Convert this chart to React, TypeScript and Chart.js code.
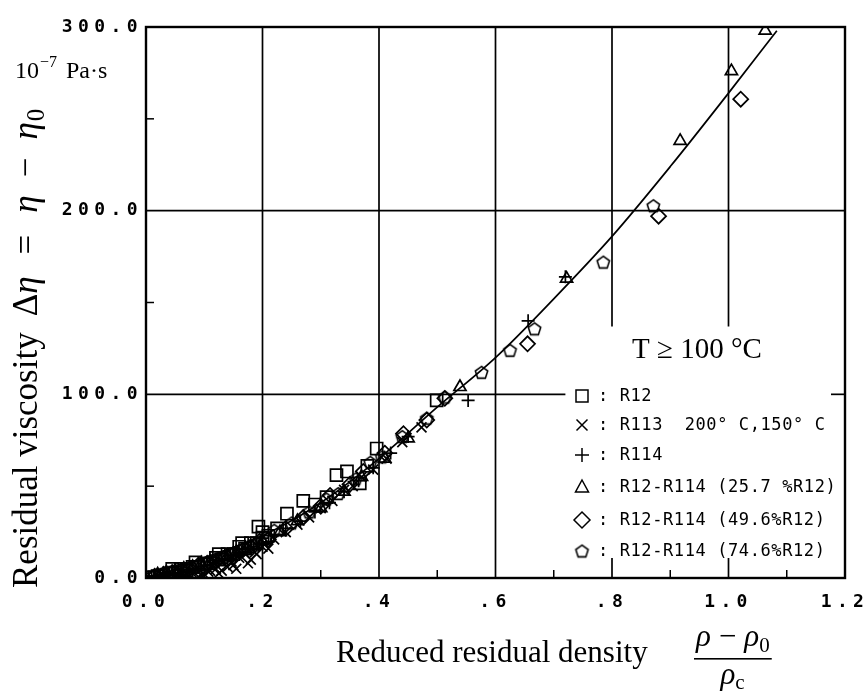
import React, { useEffect, useRef } from 'react';
import { Chart, registerables } from 'chart.js';

Chart.register(...registerables);

// ---------- axes ----------
const X_MIN = 0;
const X_MAX = 1.2;
const X_STEP = 0.2;
const Y_MIN = 0;
const Y_MAX = 300;
const Y_STEP = 100;
const xMinorTicks = [0.1, 0.3, 0.5, 0.7, 0.9, 1.1];
const yMinorTicks = [50, 150, 250];
const fullGridX = [0.2, 0.4, 0.6];
const partialGridX = [0.8, 1.0];
const fullGridY = [200];
const partialGridY = [100];
const gridBreakY = 137; // where the 0.8 / 1.0 lines stop (value units)
const gridBreakX = 0.72; // where the 100 line stops (value units)

// ---------- fitted curve ----------
const curveX = [0, 0.05, 0.1, 0.2, 0.3, 0.4, 0.5, 0.6, 0.7, 0.8, 0.9, 1.0, 1.083];
const curveY = [0, 4.5, 11, 23, 41, 65, 93, 120, 152, 186, 224, 264, 298];

// ---------- measurements ----------
const r12X = [0.01, 0.02, 0.03, 0.04, 0.045, 0.05, 0.06, 0.07, 0.08, 0.085, 0.09, 0.1, 0.11, 0.12, 0.125, 0.13, 0.14, 0.15, 0.16, 0.165, 0.17, 0.18, 0.19, 0.193, 0.2, 0.2, 0.21, 0.225, 0.242, 0.27, 0.29, 0.31, 0.327, 0.345, 0.367, 0.38, 0.396, 0.499];
const r12Y = [0.5, 1, 1.5, 2.5, 5, 3, 5, 4, 6, 8.5, 6, 7.5, 8, 11, 13, 10, 13, 13, 17, 19, 16, 19, 19, 28, 22, 25, 23, 27, 35, 42, 40, 44, 56, 58, 51.5, 61, 70.5, 96.7];

const r113X = [0.01, 0.02, 0.03, 0.035, 0.04, 0.05, 0.06, 0.065, 0.07, 0.08, 0.09, 0.095, 0.1, 0.107, 0.11, 0.12, 0.125, 0.13, 0.14, 0.147, 0.15, 0.155, 0.16, 0.17, 0.175, 0.18, 0.187, 0.19, 0.2, 0.21, 0.22, 0.24, 0.26, 0.28, 0.3, 0.32, 0.34, 0.355, 0.37, 0.39, 0.413, 0.44, 0.473];
const r113Y = [0.3, 0.5, 1, 0, 1, 0.5, 2, 0.5, 2, 2.5, 0.7, 1.5, 2, 3.4, 4, 5, 2.5, 4, 6, 8.9, 7, 5, 11, 13.4, 8, 10, 14, 13, 17, 16, 21, 25, 29, 33, 38, 42, 48, 50, 55, 59, 65, 74, 82];

const r114X = [0.005, 0.015, 0.025, 0.035, 0.045, 0.055, 0.065, 0.075, 0.085, 0.095, 0.105, 0.115, 0.125, 0.135, 0.145, 0.155, 0.165, 0.175, 0.185, 0.195, 0.215, 0.24, 0.265, 0.29, 0.315, 0.34, 0.365, 0.39, 0.42, 0.45, 0.553, 0.656, 0.72];
const r114Y = [0.5, 1, 1.5, 2, 2.5, 3, 3.5, 4.5, 5, 6.5, 7, 8.5, 9, 10.5, 12, 13, 14, 16, 17, 19, 23, 27, 31, 36, 41, 47, 53, 60, 68, 77, 96.7, 140, 164];

const mix257X = [0.02, 0.035, 0.05, 0.065, 0.08, 0.095, 0.11, 0.125, 0.14, 0.155, 0.17, 0.185, 0.2, 0.23, 0.26, 0.3, 0.34, 0.37, 0.41, 0.45, 0.539, 0.722, 0.917, 1.005, 1.063];
const mix257Y = [2, 3, 4, 5, 6, 8, 9, 10, 12, 14, 16, 18, 20, 25, 31, 38, 47, 55, 65, 76, 104, 163, 238, 276, 298];

const mix496X = [0.015, 0.03, 0.045, 0.06, 0.075, 0.09, 0.105, 0.12, 0.135, 0.15, 0.165, 0.18, 0.195, 0.21, 0.24, 0.27, 0.3, 0.316, 0.35, 0.373, 0.41, 0.442, 0.482, 0.513, 0.655, 0.88, 1.021];
const mix496Y = [1, 2, 3, 4, 5, 7, 8, 9, 11, 13, 15, 17, 20, 21, 27, 33, 39, 45, 51, 58, 68, 78.6, 86, 97.8, 127.5, 197, 260.7];

const mix746X = [0.01, 0.025, 0.04, 0.055, 0.07, 0.085, 0.1, 0.115, 0.13, 0.145, 0.16, 0.175, 0.19, 0.205, 0.22, 0.25, 0.28, 0.31, 0.33, 0.36, 0.385, 0.405, 0.44, 0.482, 0.513, 0.576, 0.625, 0.667, 0.785, 0.871];
const mix746Y = [1, 2, 3, 4, 5, 6, 8, 9, 11, 13, 15, 17, 19, 22, 26, 30, 36, 43, 46, 54, 63, 66, 77, 87, 98.5, 112, 124, 135.7, 172, 202.7];

const seriesNames = ['R12', 'R113', 'R114', 'R12-R114 (25.7%R12)', 'R12-R114 (49.6%R12)', 'R12-R114 (74.6%R12)'];
const legendTexts = [
  ': R12',
  ': R113  200° C,150° C',
  ': R114',
  ': R12-R114 (25.7 %R12)',
  ': R12-R114 (49.6%R12)',
  ': R12-R114 (74.6%R12)',
];
const legendKinds = ['square', 'x', 'plus', 'triangle', 'diamond', 'pentagon'];

const SERIF = '"Liberation Serif", "Times New Roman", serif';
const MONO = '"DejaVu Sans Mono", monospace';

function pts(xs: number[], ys: number[]) {
  return xs.map((x, i) => ({ x, y: ys[i] }));
}

function makePentagon(r: number, lw: number): HTMLCanvasElement {
  const s = Math.ceil(2 * r + lw * 2 + 2);
  const c = document.createElement('canvas');
  c.width = s;
  c.height = s;
  const g = c.getContext('2d')!;
  g.strokeStyle = '#000';
  g.lineWidth = lw;
  g.beginPath();
  for (let i = 0; i < 5; i++) {
    const a = -Math.PI / 2 + (i * 2 * Math.PI) / 5;
    const px = s / 2 + r * Math.cos(a);
    const py = s / 2 + r * Math.sin(a) + r * 0.1;
    if (i) g.lineTo(px, py);
    else g.moveTo(px, py);
  }
  g.closePath();
  g.stroke();
  return c;
}

function drawMarker(ctx: CanvasRenderingContext2D, kind: string, x: number, y: number, pent: HTMLCanvasElement) {
  ctx.save();
  ctx.strokeStyle = '#000';
  ctx.lineWidth = 1.5;
  ctx.beginPath();
  if (kind === 'square') {
    ctx.rect(x - 6, y - 6, 12, 12);
  } else if (kind === 'x') {
    ctx.moveTo(x - 5.5, y - 5.5);
    ctx.lineTo(x + 5.5, y + 5.5);
    ctx.moveTo(x + 5.5, y - 5.5);
    ctx.lineTo(x - 5.5, y + 5.5);
  } else if (kind === 'plus') {
    ctx.moveTo(x - 7, y);
    ctx.lineTo(x + 7, y);
    ctx.moveTo(x, y - 7);
    ctx.lineTo(x, y + 7);
  } else if (kind === 'triangle') {
    ctx.moveTo(x, y - 7);
    ctx.lineTo(x + 6.5, y + 5);
    ctx.lineTo(x - 6.5, y + 5);
    ctx.closePath();
  } else if (kind === 'diamond') {
    ctx.moveTo(x, y - 8);
    ctx.lineTo(x + 8, y);
    ctx.lineTo(x, y + 8);
    ctx.lineTo(x - 8, y);
    ctx.closePath();
  }
  ctx.stroke();
  if (kind === 'pentagon') {
    ctx.drawImage(pent, x - pent.width / 2, y - pent.height / 2);
  }
  ctx.restore();
}

function fmtX(v: number) {
  const t = Math.round(v * 10) / 10;
  if (t === 0) return '0.0';
  if (t < 1) return '.' + Math.round(t * 10);
  return t.toFixed(1);
}

export default function App() {
  const ref = useRef<HTMLCanvasElement | null>(null);

  useEffect(() => {
    const canvas = ref.current;
    if (!canvas) return;
    const pent = makePentagon(6.5, 1.6);

    const gridPlugin = {
      id: 'paperGrid',
      beforeDraw(chart: any) {
        chart.ctx.letterSpacing = '5.4px';
      },
      beforeDatasetsDraw(chart: any) {
        const ctx: CanvasRenderingContext2D = chart.ctx;
        ctx.letterSpacing = '0px';
        const xs = chart.scales.x;
        const ys = chart.scales.y;
        const X = (v: number) => xs.getPixelForValue(v);
        const Y = (v: number) => ys.getPixelForValue(v);
        ctx.save();
        ctx.strokeStyle = '#000';
        ctx.lineWidth = 1.7;
        const seg = (x1: number, y1: number, x2: number, y2: number) => {
          ctx.beginPath();
          ctx.moveTo(x1, y1);
          ctx.lineTo(x2, y2);
          ctx.stroke();
        };
        fullGridX.forEach((v) => seg(X(v), Y(Y_MIN), X(v), Y(Y_MAX)));
        partialGridX.forEach((v) => {
          seg(X(v), Y(Y_MAX), X(v), Y(gridBreakY));
          seg(X(v), Y(Y_MIN), X(v), Y(Y_MIN) - 20);
        });
        fullGridY.forEach((v) => seg(X(X_MIN), Y(v), X(X_MAX), Y(v)));
        partialGridY.forEach((v) => {
          seg(X(X_MIN), Y(v), X(gridBreakX), Y(v));
          seg(X(X_MAX) - 14, Y(v), X(X_MAX), Y(v));
        });
        ctx.lineWidth = 1.5;
        xMinorTicks.forEach((v) => seg(X(v), Y(Y_MIN), X(v), Y(Y_MIN) - 8));
        yMinorTicks.forEach((v) => seg(X(X_MIN), Y(v), X(X_MIN) + 8, Y(v)));
        ctx.lineWidth = 2.4;
        const a = chart.chartArea;
        ctx.strokeRect(a.left, a.top, a.right - a.left, a.bottom - a.top);
        ctx.restore();
      },
    };

    const textPlugin = {
      id: 'paperText',
      afterDraw(chart: any) {
        const ctx: CanvasRenderingContext2D = chart.ctx;
        ctx.save();
        ctx.letterSpacing = '0px';
        ctx.fillStyle = '#000';
        ctx.textAlign = 'left';
        ctx.textBaseline = 'alphabetic';

        // units
        ctx.font = `24px ${SERIF}`;
        ctx.fillText('10', 15, 78);
        let ux = 15 + ctx.measureText('10').width + 1;
        ctx.font = `16px ${SERIF}`;
        ctx.fillText('−7', ux, 67);
        ux += ctx.measureText('−7').width + 9;
        ctx.font = `24px ${SERIF}`;
        ctx.fillText('Pa·s', ux, 78);

        // y title (rotated)
        ctx.save();
        ctx.translate(37, 588);
        ctx.rotate(-Math.PI / 2);
        let p = 0;
        const put = (t: string, font: string, dy: number, gap: number) => {
          ctx.font = font;
          ctx.fillText(t, p, dy);
          p += ctx.measureText(t).width + gap;
        };
        const F = 35;
        put('Residual viscosity', `${F}px ${SERIF}`, 0, 16);
        put('Δ', `${F}px ${SERIF}`, 0, 0);
        put('η', `italic ${F}px ${SERIF}`, 0, 22);
        put('=', `${F}px ${SERIF}`, 0, 22);
        put('η', `italic ${F}px ${SERIF}`, 0, 18);
        put('−', `${F}px ${SERIF}`, 0, 18);
        put('η', `italic ${F}px ${SERIF}`, 0, 1);
        put('0', `${Math.round(F * 0.7)}px ${SERIF}`, 7, 0);
        ctx.restore();

        // x title
        ctx.font = `31px ${SERIF}`;
        ctx.fillText('Reduced residual density', 336, 662);
        // fraction
        let fx = 696;
        const fb = 646;
        ctx.font = `italic 31px ${SERIF}`;
        ctx.fillText('ρ', fx, fb);
        fx += ctx.measureText('ρ').width + 8;
        ctx.font = `31px ${SERIF}`;
        ctx.fillText('−', fx, fb);
        fx += ctx.measureText('−').width + 8;
        ctx.font = `italic 31px ${SERIF}`;
        ctx.fillText('ρ', fx, fb);
        fx += ctx.measureText('ρ').width;
        ctx.font = `21px ${SERIF}`;
        ctx.fillText('0', fx, fb + 6);
        fx += ctx.measureText('0').width;
        ctx.fillRect(694, 658, fx - 694 + 2, 1.6);
        const mid = (694 + fx) / 2;
        ctx.font = `italic 31px ${SERIF}`;
        const wr = ctx.measureText('ρ').width;
        ctx.fillText('ρ', mid - wr / 2 - 4, 684);
        ctx.font = `21px ${SERIF}`;
        ctx.fillText('c', mid + wr / 2 - 4, 689);

        // T label
        ctx.font = `29px ${SERIF}`;
        ctx.fillText('T ≥ 100 °C', 632, 358);

        // legend
        const rows = [396, 425, 455, 487, 520, 551];
        ctx.font = `17px ${MONO}`;
        ctx.letterSpacing = '0.6px';
        ctx.textBaseline = 'middle';
        rows.forEach((ry, i) => {
          drawMarker(ctx, legendKinds[i], 582, ry, pent);
          ctx.fillText(legendTexts[i], 598, ry + 1);
        });
        ctx.restore();
      },
    };

    const base = { borderColor: '#000', backgroundColor: 'rgba(0,0,0,0)', pointBorderColor: '#000', pointBackgroundColor: 'rgba(0,0,0,0)', pointBorderWidth: 1.7, showLine: false };

    const chart = new Chart(canvas, {
      type: 'scatter',
      data: {
        datasets: [
          { label: 'fit', data: pts(curveX, curveY), showLine: true, borderColor: '#000', borderWidth: 1.7, pointRadius: 0, cubicInterpolationMode: 'monotone', fill: false },
          { ...base, label: seriesNames[0], data: pts(r12X, r12Y), pointStyle: 'rect', pointRadius: 8.5 },
          { ...base, label: seriesNames[1], data: pts(r113X, r113Y), pointStyle: 'crossRot', pointRadius: 7 },
          { ...base, label: seriesNames[2], data: pts(r114X, r114Y), pointStyle: 'cross', pointRadius: 6.5 },
          { ...base, label: seriesNames[3], data: pts(mix257X, mix257Y), pointStyle: 'triangle', pointRadius: 7 },
          { ...base, label: seriesNames[4], data: pts(mix496X, mix496Y), pointStyle: 'rectRot', pointRadius: 7.5 },
          { ...base, label: seriesNames[5], data: pts(mix746X, mix746Y), pointStyle: pent, pointRadius: 7 },
        ] as any,
      },
      options: {
        responsive: false,
        animation: false,
        devicePixelRatio: 1,
        layout: { padding: { left: 0, top: 27, right: 23, bottom: 0 } },
        plugins: { legend: { display: false }, tooltip: { enabled: false } },
        scales: {
          x: {
            type: 'linear',
            min: X_MIN,
            max: X_MAX,
            afterFit: (s: any) => { s.height = 113; s.paddingLeft = 0; s.paddingRight = 0; },
            grid: { display: false, drawTicks: false },
            border: { display: false },
            ticks: {
              stepSize: X_STEP,
              padding: 14,
              maxRotation: 0,
              autoSkip: false,
              color: '#000',
              font: { family: MONO, size: 18, weight: 'bold' },
              callback: (v: any) => fmtX(Number(v)),
            },
          },
          y: {
            type: 'linear',
            min: Y_MIN,
            max: Y_MAX,
            afterFit: (s: any) => { s.width = 146; s.paddingTop = 0; s.paddingBottom = 0; },
            grid: { display: false, drawTicks: false },
            border: { display: false },
            ticks: {
              stepSize: Y_STEP,
              padding: 3,
              color: '#000',
              font: { family: MONO, size: 18, weight: 'bold' },
              callback: (v: any) => Number(v).toFixed(1),
            },
          },
        },
      } as any,
      plugins: [gridPlugin, textPlugin],
    });
    return () => chart.destroy();
  }, []);

  return (
    <div style={{ position: 'absolute', left: 0, top: 0, width: 868, height: 691, background: '#fff' }}>
      <canvas ref={ref} width={868} height={691} style={{ width: 868, height: 691, display: 'block' }} />
    </div>
  );
}
